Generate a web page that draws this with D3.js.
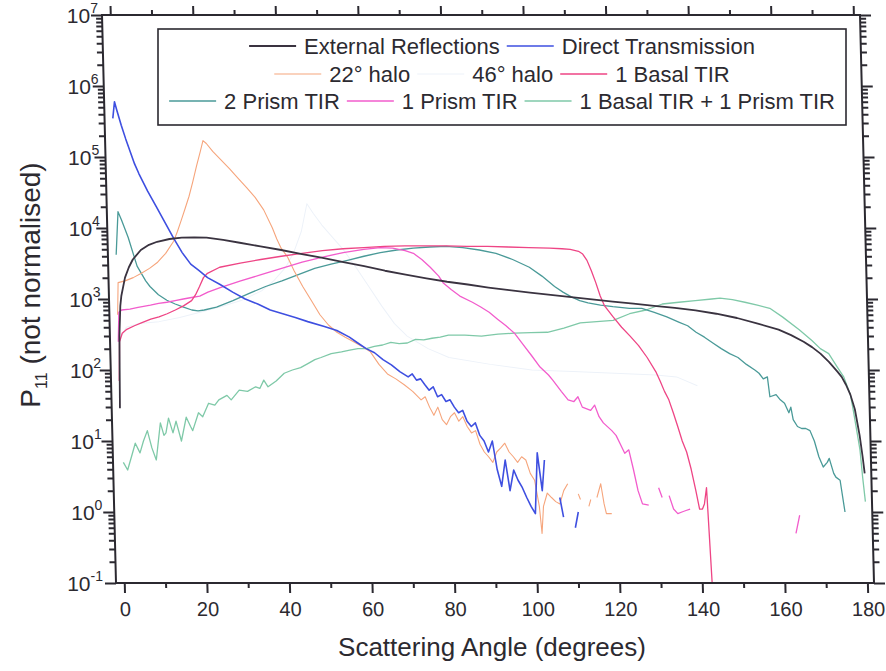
<!DOCTYPE html>
<html>
<head>
<meta charset="utf-8">
<script src="https://cdn.jsdelivr.net/npm/d3@7"></script>
<style>
  body { margin: 0; background: #fff; }
  svg { display: block; }
  text { font-family: "Liberation Sans", Arial, Helvetica, sans-serif; fill: #2c2a30; }
</style>
</head>
<body>
<svg id="chart" width="886" height="671"></svg>
<script>
// Phase function P11 versus scattering angle, one curve per ray-path class.
// Each series: [angle in degrees, P11]; null marks a break in the curve.

const angleTicks = [0, 20, 40, 60, 80, 100, 120, 140, 160, 180];
const angleMinorTicks = [10, 30, 50, 70, 90, 110, 130, 150, 170];
const decadeExponents = [-1, 0, 1, 2, 3, 4, 5, 6, 7];

const externalReflections = [
  [0,29],[0.3,300],[0.7,800],[1,1100],[2,2000],[3,2800],[4,3600],[6,4900],[8,5800],[10,6400],
  [13,7000],[16,7300],[19,7400],[22,7300],[26,6800],[30,6200],[35,5500],[40,4900],[45,4300],
  [50,3800],[55,3300],[60,2900],[65,2500],[70,2200],[75,1950],[80,1750],[85,1600],[90,1450],
  [95,1330],[100,1230],[105,1140],[110,1060],[115,990],[120,920],[125,860],[130,800],[135,750],
  [140,690],[145,620],[150,540],[155,450],[160,370],[163,310],[166,250],[168,210],[170,170],
  [172,130],[174,95],[175,80],[176,62],[177,45],[178,28],[179,12],[179.6,6],[180,3.5]
];

const directTransmission = [
  [0,3.5e5],[0.5,6e5],[1,4.6e5],[2,2.8e5],[3,1.8e5],[4,1.2e5],[5,8e4],[6,5.8e4],[8,3.3e4],
  [10,2e4],[12,1.2e4],[14,7.2e3],[16,4.5e3],[18,3.1e3],[20,2.5e3],[22,2.0e3],[25,1.6e3],
  [28,1.25e3],[31,1.0e3],[34,850],[37,700],[40,620],[43,550],[46,480],[50,410],[53,360],
  [56,290],[58,240],[60,200],[62,175],[64,140],[66,118],[68,95],[70,80],[71,88],[72,72],
  [73,75],[74,62],[75,52],[76,58],[77,42],[78,45],[79,36],[80,38],[81,30],[82,25],[83,27],
  [84,19],[85,16],[86,18],[87,12],[88,10],[89,7],[90,10],[91,4],[92,2.3],[93,5.4],[94,2],
  [95,3.9],[96,2.8],[97,2.2],[98,1.6],[99,1.2],[100,0.95],[100.8,6.8],[101.8,2],[102.5,5.4],
  null,[106,1.6],[106.8,0.85],
  null,[109.6,0.6],[110.4,1.0]
];

const halo22 = [
  [0,600],[0.3,1700],[2,1800],[4,2000],[6,2300],[8,2700],[10,3300],[12,4400],[14,6500],
  [15,9000],[16,13000],[17,19000],[18,28000],[19,45000],[20,75000],[21,120000],[21.7,170000],
  [22.5,155000],[24,120000],[26,90000],[28,68000],[30,50000],[32,37000],[34,27000],[36,18000],
  [38,10000],[39,7000],[40,5200],[41.5,3900],[43,2500],[45,1500],[47,950],[49,600],[51,430],
  [53,340],[55,290],[57,250],[59,215],[61,180],[63,120],[65,88],[67,75],[69,62],[71,50],
  [73,38],[74,42],[75,30],[76,23],[77,30],[78,20],[79,17],[80,22],[81,25],[82,19],[83,22],
  [84,16],[85,13],[86,14],[87,9],[88,7],[89,6],[90,5],[91,7],[92,8],[93,9.3],[94,7],[95,6],
  [96,5],[97,6],[98,5.4],[99,3.5],[100,2.8],[101,1.2],[101.5,0.5],[102,1.2],[103,1.85],
  [104,1.6],[105,1.4],[106,1.3],[107,2],[108,2.5],
  null,[110.5,1.8],[111,1.5],
  null,[113,1.2],[113.5,1.5],
  null,[115,1.6],[116,2.5],[116.7,1.3],[117.2,0.95],[118.5,0.95]
];

const halo46 = [
  [0,250],[2,400],[5,450],[10,480],[15,550],[20,650],[25,780],[30,950],[35,1300],[38,1800],
  [41,2800],[43,4500],[45,9000],[46.5,22000],[48,16000],[50,11000],[52,8000],[55,5000],
  [58,2800],[61,1500],[64,800],[67,450],[70,300],[75,200],[80,150],[90,120],[100,100],
  [110,95],[120,90],[130,85],[135,80],[140,60]
];

const basalTIR1 = [
  [0,70],[0.3,250],[1,330],[2,370],[4,420],[6,470],[8,520],[10,560],[12,620],[14,700],
  [16,800],[18,950],[19,1150],[20,1500],[21,2000],[22,2300],[25,2800],[30,3200],[35,3600],
  [40,4000],[45,4400],[50,4800],[55,5100],[60,5300],[65,5500],[70,5600],[75,5600],[80,5600],
  [85,5500],[90,5500],[95,5400],[100,5300],[105,5200],[108,5100],[110,5000],[112,4700],
  [113,4300],[114,3500],[115,2500],[116,1700],[117,1100],[118,800],[120,560],[122,400],
  [124,300],[126,220],[128,150],[130,95],[131,70],[132,50],[133,38],[134,25],[135,16],
  [136,10],[137,7],[138,4],[139,2],[139.8,1.1],[140.5,1.1],[141,1.3],[141.6,2.2],[142.4,0.1]
];

const prismTIR2 = [
  [0,4200],[0.7,17000],[1.5,13000],[3,7400],[5,2900],[7,1800],[8,1500],[10,1150],[12,960],
  [14,850],[16,770],[18,700],[19.5,680],[21,700],[24,770],[28,950],[32,1200],[36,1500],
  [40,1800],[44,2200],[48,2700],[52,3100],[56,3500],[60,4000],[64,4500],[68,4900],[72,5200],
  [76,5400],[80,5500],[84,5300],[88,4900],[92,4400],[96,3600],[100,2800],[103,2100],
  [106,1500],[108,1250],[110,1070],[112,950],[114,880],[117,820],[120,780],[124,740],
  [127,740],[130,650],[133,560],[136,470],[138,420],[140,340],[142,290],[144,240],[146,200],
  [148,170],[150,150],[152,120],[154,100],[155,90],[156,75],[157,80],[157.5,42],[159,45],
  [160,38],[161,34],[162,25],[162.5,30],[163,20],[164,16],[165,15],[166,15],[167,14],
  [168,10],[169,6],[170,4.3],[171,5],[171.5,5.7],[172.5,3.5],[173,3.1],[174,2.8],[175,1]
];

const prismTIR1 = [
  [0,250],[0.3,650],[1,700],[3,720],[5,760],[8,820],[10,870],[12,900],[14,950],[16,1000],
  [18,1050],[20,1100],[22,1250],[25,1450],[30,1800],[35,2200],[40,2700],[45,3300],[50,3900],
  [55,4500],[60,5000],[64,5300],[67,5200],[70,4800],[72,4400],[74,3600],[76,2800],[78,2100],
  [79,1700],[81,1350],[83,1100],[86,900],[88,770],[90,650],[92,520],[94,420],[96,330],
  [98,230],[100,160],[102,110],[104,85],[105,72],[107,50],[108.6,38],[110,36],[111,42],
  [112,30],[114,27],[115,32],[116,22],[117,18],[119,14],[120,12],[121,9],[122,6.7],[123,7.5],
  [124,4],[125,2],[126,1.3],[127.5,1.25],
  null,[130,2.2],[130.8,1.6],
  null,[132.5,1.7],[133.5,1.1],[134.5,0.95],[135.5,1.0],[136.5,1.05],[137.5,1.1],
  null,[163,0.5],[164,0.9]
];

const basalPrismTIR = [
  [0.5,5],[1.5,3.9],[2.5,6],[3.5,9.3],[4.6,6.8],[5.5,10],[6.5,14],[7.5,8],[8.5,5.4],[9.7,18],
  [10.5,12],[11,13],[11.7,21],[12.7,13],[13.5,19],[14.7,10],[16,21.6],[17,16],[17.5,14],
  [19,25],[20,22],[21.5,34],[23,32],[24,38],[26,44],[27,38],[29,52],[31,50],[33,58],[34,55],
  [35,72],[36,58],[38,70],[40,90],[42,100],[44,108],[46,125],[47.5,140],[49,150],[51.5,170],
  [54,180],[56,190],[58,200],[60,200],[62,215],[64,225],[66,245],[68,235],[70,240],[72,270],
  [74,265],[76,280],[78,290],[80,310],[84,310],[88,300],[92,320],[96,330],[100,335],[104,340],
  [108,390],[112,460],[116,480],[120,500],[124,620],[128,700],[132,850],[136,900],[140,950],
  [144,1000],[146,1030],[149,980],[152,900],[155,820],[158,740],[161,560],[165,370],[168,260],
  [170,200],[172,170],[174,110],[175.5,80],[177,45],[177.5,30],[178.5,12],[179,7.5],[179.5,3],
  [180,1.4]
];

// Drawing order (back to front) and style per series.
const series = [
  { label: "46° halo",                    data: halo46,              color: "#edf2f9", width: 1.0 },
  { label: "1 Basal TIR + 1 Prism TIR",   data: basalPrismTIR,       color: "#7fc9a8", width: 1.3 },
  { label: "2 Prism TIR",                 data: prismTIR2,           color: "#4a9a98", width: 1.3 },
  { label: "22° halo",                    data: halo22,              color: "#f6a57c", width: 1.1 },
  { label: "1 Prism TIR",                 data: prismTIR1,           color: "#f25ccc", width: 1.3 },
  { label: "1 Basal TIR",                 data: basalTIR1,           color: "#ee4585", width: 1.3 },
  { label: "Direct Transmission",         data: directTransmission,  color: "#3e4fe0", width: 1.6 },
  { label: "External Reflections",        data: externalReflections, color: "#3a3340", width: 1.8 }
];
const byLabel = Object.fromEntries(series.map(s => [s.label, s]));

const legendRows = [
  ["External Reflections", "Direct Transmission"],
  ["22° halo", "46° halo", "1 Basal TIR"],
  ["2 Prism TIR", "1 Prism TIR", "1 Basal TIR + 1 Prism TIR"]
];

// ---------- layout ----------
const W = 886, H = 671;
const plot = { left: 102, top: 15, width: 758, height: 568, lean: 14 };
const skewDeg = Math.atan(plot.lean / plot.height) * 180 / Math.PI;
const ink = "#2b2930";

const svg = d3.select("#chart");
svg.append("rect").attr("width", W).attr("height", H).attr("fill", "#fff");

const x = d3.scaleLinear().domain([-2, 181.6]).range([0, plot.width]);
const y = d3.scaleLog().domain([0.1, 1e7]).range([plot.height, 0]);

const g = svg.append("g")
  .attr("transform", `translate(${plot.left},${plot.top}) skewX(${skewDeg})`);

g.append("clipPath").attr("id", "plot-clip")
  .append("rect").attr("width", plot.width).attr("height", plot.height);

// ---------- curves ----------
const line = d3.line()
  .defined(d => d !== null)
  .x(d => x(d[0]))
  .y(d => y(d[1]));

const curves = g.append("g").attr("clip-path", "url(#plot-clip)");
series.forEach(s => {
  curves.append("path")
    .attr("d", line(s.data))
    .attr("fill", "none")
    .attr("stroke", s.color)
    .attr("stroke-width", s.width)
    .attr("stroke-linejoin", "round");
});

// ---------- axes ----------
function styleAxis(sel) {
  sel.select(".domain").remove();
  sel.selectAll(".tick line").attr("stroke", ink).attr("stroke-width", 2);
  sel.selectAll(".tick text")
    .attr("fill", ink)
    .style("font-size", "20px")
    .style("font-family", '"Liberation Sans", Arial, sans-serif');
}

const minorLog = [];
decadeExponents.slice(0, -1).forEach(e => {
  for (let k = 2; k <= 9; k++) minorLog.push(k * Math.pow(10, e));
});
const decadeValues = decadeExponents.map(e => Math.pow(10, e));

// bottom
g.append("g").attr("transform", `translate(0,${plot.height})`)
  .call(d3.axisBottom(x).tickValues(angleTicks).tickSize(10).tickPadding(9).tickFormat(d3.format("d")))
  .call(styleAxis);
g.append("g").attr("transform", `translate(0,${plot.height})`)
  .call(d3.axisBottom(x).tickValues(angleMinorTicks).tickSize(5).tickFormat(""))
  .call(styleAxis);
// top
g.append("g")
  .call(d3.axisTop(x).tickValues(angleTicks).tickSize(9).tickFormat(""))
  .call(styleAxis);
g.append("g")
  .call(d3.axisTop(x).tickValues(angleMinorTicks).tickSize(5).tickFormat(""))
  .call(styleAxis);
// left
g.append("g")
  .call(d3.axisLeft(y).tickValues(decadeValues).tickSize(11).tickFormat(""))
  .call(styleAxis);
g.append("g")
  .call(d3.axisLeft(y).tickValues(minorLog).tickSize(6).tickFormat(""))
  .call(styleAxis);
// right
g.append("g").attr("transform", `translate(${plot.width},0)`)
  .call(d3.axisRight(y).tickValues(decadeValues).tickSize(11).tickFormat(""))
  .call(styleAxis);
g.append("g").attr("transform", `translate(${plot.width},0)`)
  .call(d3.axisRight(y).tickValues(minorLog).tickSize(6).tickFormat(""))
  .call(styleAxis);

// frame
g.append("rect")
  .attr("width", plot.width).attr("height", plot.height)
  .attr("fill", "none").attr("stroke", ink).attr("stroke-width", 2);

// y tick labels: 10 with a raised exponent
const yLabels = svg.append("g");
decadeExponents.forEach(e => {
  const yy = plot.top + y(Math.pow(10, e));
  const rightEdge = 98 + (y(Math.pow(10, e)) / plot.height) * 5;
  const t = yLabels.append("text")
    .attr("x", rightEdge).attr("y", yy + 8)
    .attr("text-anchor", "end")
    .style("font-size", "21px").attr("fill", ink);
  t.append("tspan").text("10");
  t.append("tspan").attr("dy", -10).style("font-size", "14px").text(String(e));
});

// axis titles
svg.append("text")
  .attr("x", 492).attr("y", 656)
  .attr("text-anchor", "middle")
  .style("font-size", "26px").attr("fill", ink)
  .text("Scattering Angle (degrees)");

const yt = svg.append("text")
  .attr("transform", "translate(40,285) rotate(-90)")
  .attr("text-anchor", "middle")
  .style("font-size", "28px").attr("fill", ink);
yt.append("tspan").text("P");
yt.append("tspan").attr("dy", 7).style("font-size", "16px").text("11");
yt.append("tspan").attr("dy", -7).text(" (not normalised)");

// ---------- legend ----------
const legendBox = { x: 158, y: 29, w: 688, h: 96 };
const legend = svg.append("g");
legend.append("rect")
  .attr("x", legendBox.x).attr("y", legendBox.y)
  .attr("width", legendBox.w).attr("height", legendBox.h)
  .attr("fill", "#fff").attr("stroke", ink).attr("stroke-width", 1.6);

const rowCenters = [46, 74, 101];
const sampleLen = 47, gapAfterSample = 8, gapAfterText = 7;
legendRows.forEach((row, ri) => {
  const rg = legend.append("g");
  let cx = 0;
  row.forEach(lbl => {
    const s = byLabel[lbl];
    rg.append("line")
      .attr("x1", cx).attr("x2", cx + sampleLen)
      .attr("y1", 0).attr("y2", 0)
      .attr("stroke", s.color).attr("stroke-width", s.width);
    cx += sampleLen + gapAfterSample;
    const t = rg.append("text")
      .attr("x", cx).attr("y", 8)
      .style("font-size", "22px").attr("fill", ink)
      .text(lbl);
    cx += t.node().getComputedTextLength() + gapAfterText;
  });
  const rowWidth = cx - gapAfterText;
  const center = legendBox.x + legendBox.w / 2;
  rg.attr("transform", `translate(${center - rowWidth / 2},${rowCenters[ri]})`);
});
</script>
</body>
</html>
